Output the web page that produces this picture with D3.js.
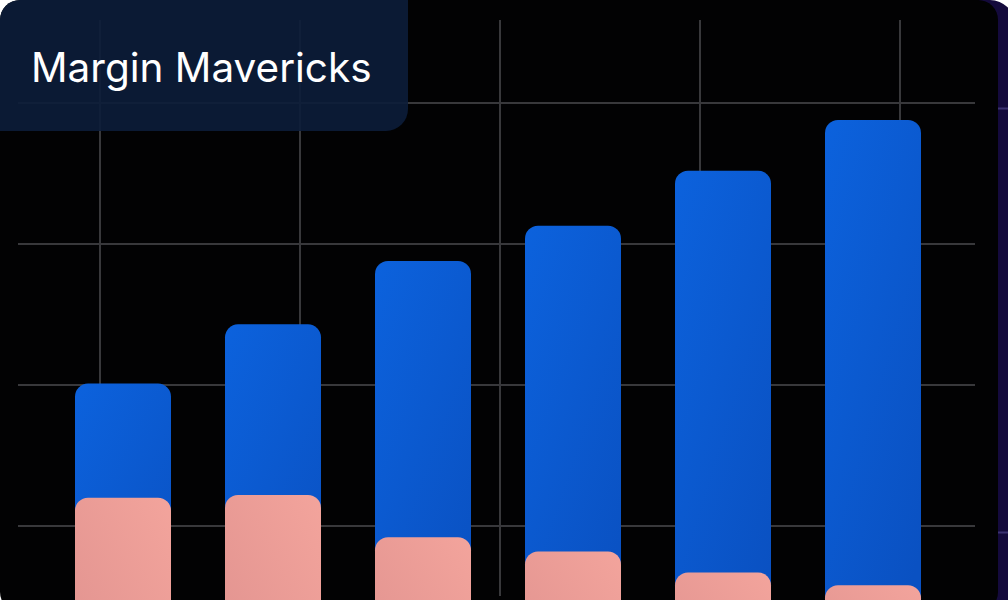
<!DOCTYPE html>
<html>
<head>
<meta charset="utf-8">
<script src="https://cdn.jsdelivr.net/npm/d3@7"></script>
<style>
html,body{margin:0;padding:0;background:#ffffff;overflow:hidden;}
svg{display:block;}
</style>
</head>
<body>
<svg id="chart" width="1008" height="600"></svg>
<script>
// Data
const categories = ["P1", "P2", "P3", "P4", "P5", "P6"];
const revenue = [20.1, 24.3, 28.8, 31.3, 35.2, 38.8];
const cost = [12.0, 12.2, 9.2, 8.2, 6.7, 5.8];
const yTicks = [10, 20, 30, 40];
const xGridTicks = [1, 2, 3, 4, 5];
const title = "Margin Mavericks";

const svg = d3.select("#chart");

const defs = svg.append("defs");
const gBlue = defs.append("linearGradient").attr("id", "gBlue")
  .attr("x1", "0%").attr("y1", "0%").attr("x2", "60%").attr("y2", "100%");
gBlue.append("stop").attr("offset", "0%").attr("stop-color", "#0c62dd");
gBlue.append("stop").attr("offset", "100%").attr("stop-color", "#0a51c2");
const gPink = defs.append("linearGradient").attr("id", "gPink")
  .attr("x1", "100%").attr("y1", "0%").attr("x2", "0%").attr("y2", "100%");
gPink.append("stop").attr("offset", "0%").attr("stop-color", "#f3a49c");
gPink.append("stop").attr("offset", "100%").attr("stop-color", "#e0928f");

// Background cards
svg.append("rect").attr("x", 700).attr("y", 0).attr("width", 315).attr("height", 640)
  .attr("rx", 25).attr("fill", "#140a3c");
svg.append("line").attr("x1", 998).attr("x2", 1008).attr("y1", 108.5).attr("y2", 108.5)
  .attr("stroke", "#3b3170").attr("stroke-width", 2);
svg.append("line").attr("x1", 998).attr("x2", 1008).attr("y1", 532.5).attr("y2", 532.5)
  .attr("stroke", "#3b3170").attr("stroke-width", 2);
svg.append("rect").attr("x", 0).attr("y", 0).attr("width", 998).attr("height", 612)
  .attr("rx", 20).attr("fill", "#020203");

// Scales
const x = d3.scaleBand().domain(categories).range([48, 948]).paddingInner(0.36).paddingOuter(0.18);
const y = d3.scaleLinear().domain([0, 40]).range([667, 103]);
const xg = d3.scaleLinear().domain([0.5, 5.5]).range([0, 1000]);

// Grid
const grid = svg.append("g").attr("stroke", "#38383b").attr("stroke-width", 2);
grid.selectAll("line.h").data(yTicks).join("line").attr("class", "h")
  .attr("x1", 18).attr("x2", 975)
  .attr("y1", d => Math.round(y(d))).attr("y2", d => Math.round(y(d)));
grid.selectAll("line.v").data(xGridTicks).join("line").attr("class", "v")
  .attr("x1", d => xg(d)).attr("x2", d => xg(d))
  .attr("y1", 20).attr("y2", 596);

// Bars
svg.append("g").selectAll("rect").data(categories).join("rect")
  .attr("x", d => x(d)).attr("width", x.bandwidth())
  .attr("y", (d, i) => y(revenue[i]))
  .attr("height", (d, i) => y(0) - y(revenue[i]) + 20)
  .attr("rx", 13).attr("fill", "url(#gBlue)");
svg.append("g").selectAll("rect").data(categories).join("rect")
  .attr("x", d => x(d)).attr("width", x.bandwidth())
  .attr("y", (d, i) => y(cost[i]))
  .attr("height", (d, i) => y(0) - y(cost[i]) + 20)
  .attr("rx", 13).attr("fill", "url(#gPink)");

// Title box
const bw = 408, bh = 131, r1 = 20, r2 = 22;
const p = `M0,${r1} A${r1},${r1} 0 0 1 ${r1},0 L${bw},0 L${bw},${bh - r2} A${r2},${r2} 0 0 1 ${bw - r2},${bh} L0,${bh} Z`;
svg.append("path").attr("d", p).attr("fill", "#0c1d3a").attr("fill-opacity", 0.9);
svg.append("text").attr("x", 31).attr("y", 82)
  .attr("fill", "#ffffff").attr("font-family", "Inter, 'Noto Sans', sans-serif")
  .attr("font-size", 40.5).attr("font-weight", 400)
  .text(title);
</script>
</body>
</html>
